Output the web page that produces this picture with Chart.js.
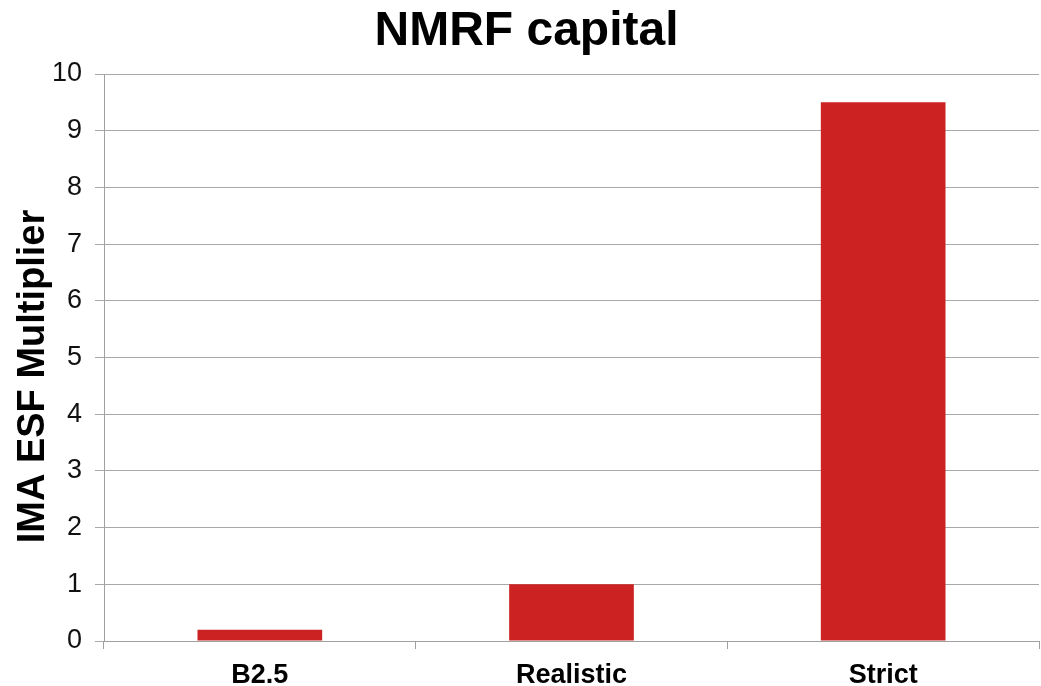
<!doctype html>
<html lang="en">
  <head>
    <meta charset="UTF-8" />
    <title>NMRF capital</title>
    <script src="https://cdn.jsdelivr.net/npm/chart.js"></script>
    <style>
      body {
        margin: 0;
        padding: 0;
        background-color: #ffffff;
      }
      .chart-container {
        position: relative;
        width: 1041px;
        height: 686px;
      }
    </style>
  </head>
  <body>
    <div class="chart-container">
      <canvas id="barChart"></canvas>
    </div>

    <script>
      const categories = ['B2.5', 'Realistic', 'Strict'];
      const multiplierValues = [0.2, 1.0, 9.5];
      const yTicks = [0, 1, 2, 3, 4, 5, 6, 7, 8, 9, 10];
      const yAxisTitle = 'IMA ESF Multiplier';

      const fontFamily = '"Liberation Sans", Arial, sans-serif';

      // y axis title drawn a bit below the plot centre, like the original
      const yTitlePlugin = {
        id: 'yTitle',
        afterDraw(chart) {
          const { ctx, chartArea } = chart;
          ctx.save();
          ctx.translate(34, (chartArea.top + chartArea.bottom) / 2 + 19);
          ctx.rotate(-Math.PI / 2);
          ctx.font = 'bold 38px ' + fontFamily;
          ctx.fillStyle = '#000000';
          ctx.textAlign = 'center';
          ctx.textBaseline = 'middle';
          ctx.fillText(yAxisTitle, 0, 0);
          ctx.restore();
        },
      };

      const ctx = document.getElementById('barChart').getContext('2d');

      const chart = new Chart(ctx, {
        type: 'bar',
        data: {
          labels: categories,
          datasets: [
            {
              label: yAxisTitle,
              data: multiplierValues,
              backgroundColor: '#cc2222',
              borderWidth: 0,
              barPercentage: 0.4,
              categoryPercentage: 1.0,
            },
          ],
        },
        options: {
          responsive: true,
          maintainAspectRatio: false,
          animation: false,
          layout: {
            padding: { left: 14, right: 2, top: 0, bottom: 0 },
          },
          plugins: {
            legend: { display: false },
            tooltip: { enabled: false },
            title: {
              display: true,
              text: 'NMRF capital',
              color: '#000000',
              font: { family: fontFamily, size: 48, weight: 'bold' },
              padding: { top: 3, bottom: 13.4 },
            },
          },
          scales: {
            x: {
              afterFit: (scale) => {
                scale.height = 45;
              },
              grid: {
                display: true,
                drawOnChartArea: false,
                drawTicks: true,
                tickLength: 8,
                color: '#a0a0a0',
                lineWidth: 1,
              },
              border: { display: true, color: '#a0a0a0', width: 1 },
              ticks: {
                color: '#000000',
                font: { family: fontFamily, size: 27, weight: 'bold' },
                padding: 10,
              },
            },
            y: {
              min: 0,
              max: 10,
              afterBuildTicks: (scale) => {
                scale.ticks = yTicks.map((v) => ({ value: v }));
              },
              afterFit: (scale) => {
                scale.width = 90;
              },
              grid: {
                color: '#a8a8a8',
                lineWidth: 1,
                tickLength: 9,
              },
              border: { display: true, color: '#a0a0a0', width: 1 },
              ticks: {
                color: '#111111',
                font: { family: fontFamily, size: 27 },
                padding: 13,
              },
            },
          },
        },
        plugins: [yTitlePlugin],
      });
    </script>
  </body>
</html>
